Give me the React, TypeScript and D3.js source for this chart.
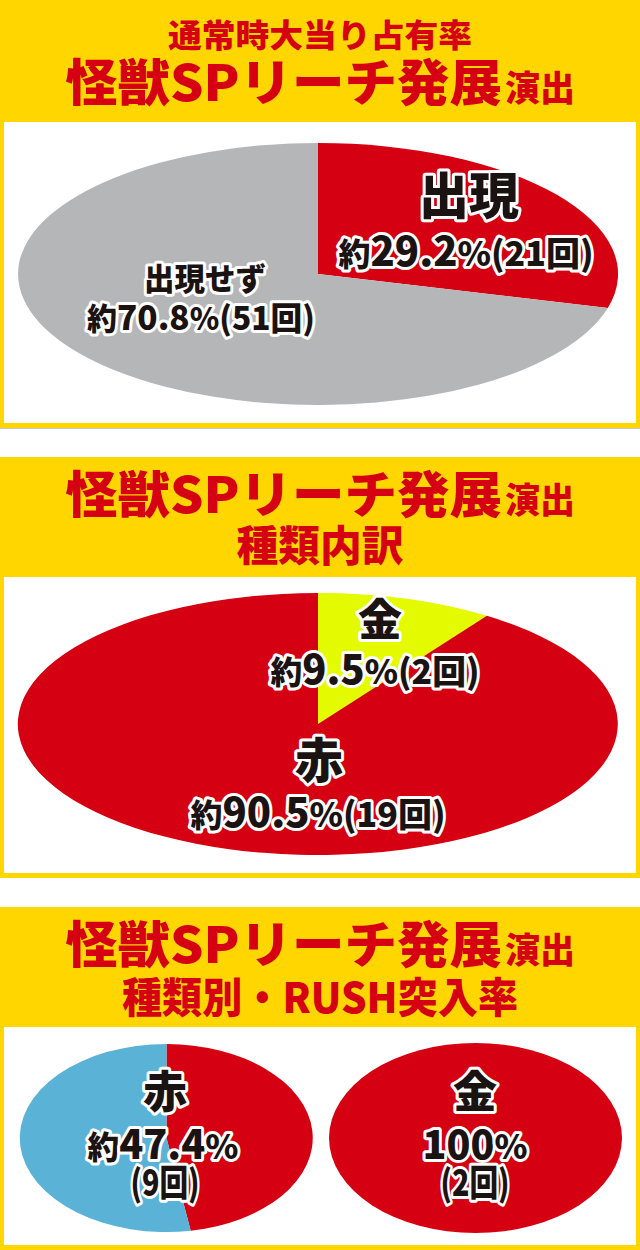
import React from "react";
import * as d3 from "d3";

// counts; percentages are derived from them
const appearLabels = ["出現", "出現せず"];
const appearCounts = [21, 51];
const appearColors = ["#d50012", "#b5b6b8"];

const typeLabels = ["金", "赤"];
const typeCounts = [2, 19];
const typeColors = ["#e3fa00", "#d50012"];

const redRushLabels = ["突入", "非突入"];
const redRushCounts = [9, 10];
const redRushColors = ["#d50012", "#5ab2d6"];

const goldRushLabels = ["突入"];
const goldRushCounts = [2];
const goldRushColors = ["#d50012"];

const titleMain = "怪獣SPリーチ発展";
const titleSub = "演出";
const panelHeads = ["通常時大当り占有率", "種類内訳", "種類別・RUSH突入率"];

const YELLOW = "#ffd600";
const RED = "#d50012";
const FONT = "'Noto Sans CJK JP', 'Noto Sans', sans-serif";

const fmt = d3.format(".1f");
const pct = (v: number, all: number[]) => {
  const p = (v / d3.sum(all)) * 100;
  return p === 100 ? "100" : fmt(p);
};

type Part = { t: string; s: number };

// one outlined label line (black text, white halo)
const Label = ({ x, y, size, parts, width }: { x: number; y: number; size: number; parts: Part[]; width?: number }) => (
  <text
    x={x}
    y={y}
    textAnchor="middle"
    fontFamily={FONT}
    fontWeight={900}
    fontSize={size}
    fill="#1a1311"
    stroke="#fff"
    strokeWidth={6}
    strokeLinejoin="round"
    paintOrder="stroke"
    textLength={width}
    lengthAdjust={width ? "spacingAndGlyphs" : undefined}
  >
    {parts.map((p, i) => (
      <tspan key={i} fontSize={size * p.s}>{p.t}</tspan>
    ))}
  </text>
);

const Pie = ({ cx, cy, rx, ry, values, colors }: { cx: number; cy: number; rx: number; ry: number; values: number[]; colors: string[] }) => {
  const arcs = d3.pie<number>().sort(null).value((d) => d)(values);
  const arc = d3.arc<d3.PieArcDatum<number>>().innerRadius(0).outerRadius(1);
  return (
    <g transform={`translate(${cx},${cy}) scale(${rx},${ry})`}>
      {arcs.map((a, i) => (
        <path key={i} d={arc(a) || ""} fill={colors[i]} />
      ))}
    </g>
  );
};

const Title = ({ y }: { y: number }) => (
  <g fontFamily={FONT} fontWeight={900} fill={RED}>
    <text x={65} y={y} fontSize={50} textLength={437} lengthAdjust="spacingAndGlyphs">{titleMain}</text>
    <text x={505} y={y} fontSize={35} textLength={70} lengthAdjust="spacingAndGlyphs">{titleSub}</text>
  </g>
);

const Panel = ({ top, bottom, head }: { top: number; bottom: number; head: number }) => (
  <g>
    <rect x={0} y={top} width={640} height={bottom - top} fill={YELLOW} />
    <rect x={4} y={head} width={632} height={bottom - head - 5} fill="#fff" />
  </g>
);

const App = () => {
  const totalAppear = appearCounts;
  const totalType = typeCounts;
  return (
    <svg width={640} height={1250} style={{ position: "absolute", left: 0, top: 0, background: "#fff" }}>
      {/* panel 1 */}
      <Panel top={0} bottom={428} head={122} />
      <line x1={0} x2={640} y1={428.5} y2={428.5} stroke="#c8c8c8" />
      <text x={320} y={47} textAnchor="middle" fontFamily={FONT} fontWeight={900} fontSize={32} fill={RED} textLength={304} lengthAdjust="spacingAndGlyphs">{panelHeads[0]}</text>
      <Title y={101} />
      <Pie cx={318} cy={274} rx={300} ry={131} values={appearCounts} colors={appearColors} />
      <Label x={469} y={214} size={50} width={100} parts={[{ t: appearLabels[0], s: 1 }]} />
      <Label x={466} y={266} size={40} width={255} parts={[{ t: "約", s: 0.8 }, { t: pct(appearCounts[0], totalAppear), s: 1 }, { t: "%", s: 0.85 }, { t: `(${appearCounts[0]}回)`, s: 0.85 }]} />
      <Label x={205} y={290} size={31} width={122} parts={[{ t: appearLabels[1], s: 1 }]} />
      <Label x={201} y={330} size={34} width={228} parts={[{ t: "約", s: 0.9 }, { t: pct(appearCounts[1], totalAppear), s: 1 }, { t: "%", s: 0.9 }, { t: `(${appearCounts[1]}回)`, s: 0.95 }]} />

      {/* panel 2 */}
      <Panel top={457} bottom={878} head={577} />
      <Title y={513} />
      <text x={320} y={561} textAnchor="middle" fontFamily={FONT} fontWeight={900} fontSize={42} fill={RED} textLength={167} lengthAdjust="spacingAndGlyphs">{panelHeads[1]}</text>
      <Pie cx={318} cy={724} rx={300} ry={131} values={typeCounts} colors={typeColors} />
      <Label x={380} y={636} size={44} parts={[{ t: typeLabels[0], s: 1 }]} />
      <Label x={375} y={684} size={40} width={209} parts={[{ t: "約", s: 0.8 }, { t: pct(typeCounts[0], totalType), s: 1 }, { t: "%", s: 0.85 }, { t: `(${typeCounts[0]}回)`, s: 0.85 }]} />
      <Label x={319} y={778} size={48} parts={[{ t: typeLabels[1], s: 1 }]} />
      <Label x={318} y={827} size={40} width={255} parts={[{ t: "約", s: 0.8 }, { t: pct(typeCounts[1], totalType), s: 1 }, { t: "%", s: 0.85 }, { t: `(${typeCounts[1]}回)`, s: 0.85 }]} />

      {/* panel 3 */}
      <Panel top={907} bottom={1250} head={1027} />
      <Title y={963} />
      <text x={320} y={1013} textAnchor="middle" fontFamily={FONT} fontWeight={900} fontSize={42} fill={RED} textLength={396} lengthAdjust="spacingAndGlyphs">{panelHeads[2]}</text>
      <Pie cx={166.5} cy={1138} rx={146.5} ry={94} values={redRushCounts} colors={redRushColors} />
      <Pie cx={475.5} cy={1138} rx={146.5} ry={95} values={goldRushCounts} colors={goldRushColors} />
      <Label x={165} y={1108} size={44} parts={[{ t: typeLabels[1], s: 1 }]} />
      <Label x={163} y={1159} size={40} width={151} parts={[{ t: "約", s: 0.8 }, { t: pct(redRushCounts[0], redRushCounts), s: 1 }, { t: "%", s: 0.85 }]} />
      <Label x={165} y={1196} size={36} width={69} parts={[{ t: `(${redRushCounts[0]}回)`, s: 1 }]} />
      <Label x={475} y={1108} size={44} parts={[{ t: typeLabels[0], s: 1 }]} />
      <Label x={475} y={1159} size={40} width={105} parts={[{ t: pct(goldRushCounts[0], goldRushCounts), s: 1 }, { t: "%", s: 0.85 }]} />
      <Label x={475} y={1196} size={36} width={69} parts={[{ t: `(${goldRushCounts[0]}回)`, s: 1 }]} />
    </svg>
  );
};

export default App;
